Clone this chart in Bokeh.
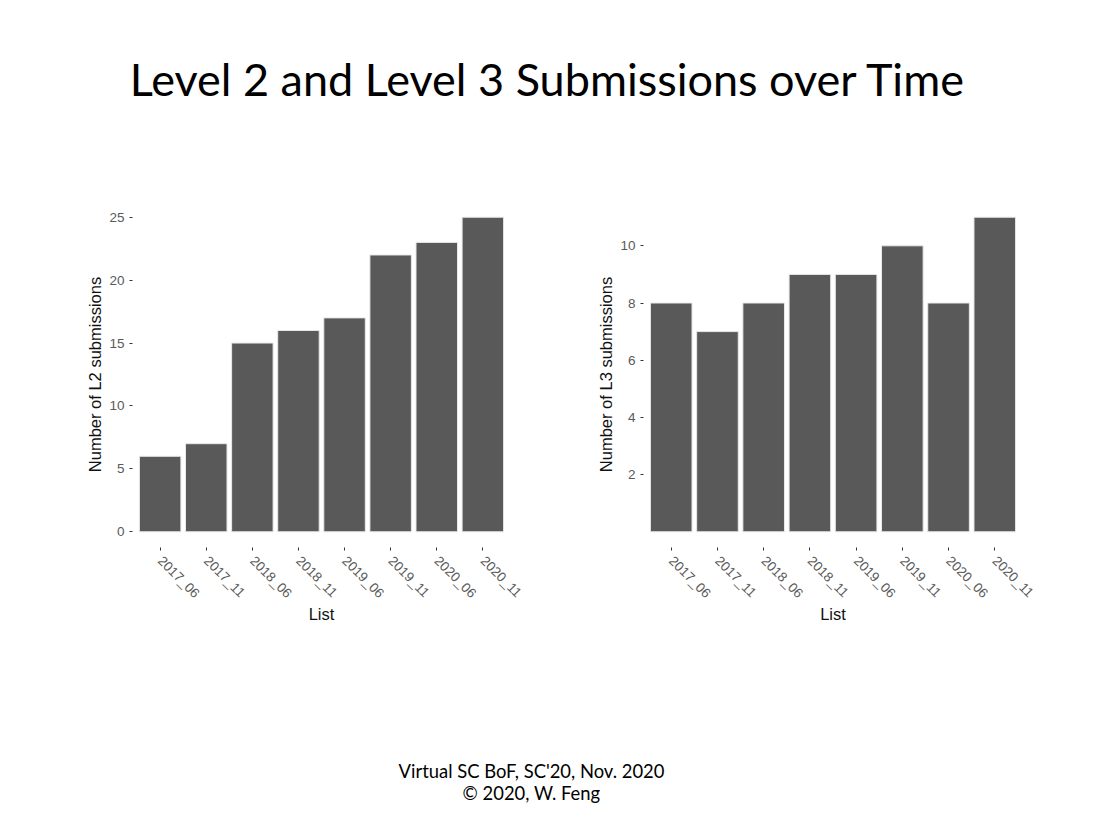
import math
from bokeh.plotting import figure
from bokeh.models import Range1d, FactorRange, FixedTicker, ColumnDataSource, Label
from bokeh.layouts import column, row
from bokeh.embed import file_html
from bokeh.resources import INLINE

# ---- data ----
lists = ["2017_06", "2017_11", "2018_06", "2018_11", "2019_06", "2019_11", "2020_06", "2020_11"]
l2_submissions = [6, 7, 15, 16, 17, 22, 23, 25]
l3_submissions = [8, 7, 8, 9, 9, 10, 8, 11]
l2_ticks = [0, 5, 10, 15, 20, 25]
l3_ticks = [2, 4, 6, 8, 10]
title_text = "Level 2 and Level 3 Submissions over Time"
footer_lines = ["Virtual SC BoF, SC'20, Nov. 2020", "\u00a9 2020, W. Feng"]

BAR = "#595959"
TICK_FONT = "Liberation Sans"


def blank(width, height):
    f = figure(width=width, height=height, output_backend="svg", toolbar_location=None,
               title=None,
               x_range=Range1d(0, width), y_range=Range1d(height, 0),
               min_border=0, x_axis_location=None, y_axis_location=None)
    f.grid.visible = False
    f.outline_line_color = None
    f.background_fill_color = "white"
    f.border_fill_color = "white"
    return f


def bar_chart(values, ticks, ymax_pad, ylabel, width, height, left, right, top, bottom):
    ymax = max(values)
    src = ColumnDataSource(dict(x=lists, top=values))
    p = figure(width=width, height=height, output_backend="svg",
               toolbar_location=None, title=None,
               x_range=FactorRange(*lists, range_padding=0.1, range_padding_units="absolute"),
               y_range=Range1d(-ymax_pad, ymax + ymax_pad),
               min_border_left=left, min_border_right=right,
               min_border_top=top, min_border_bottom=bottom)
    p.vbar(x="x", top="top", bottom=0, width=0.9, source=src,
           fill_color=BAR, line_color="#e8e8e8", line_width=1)
    p.grid.visible = False
    p.outline_line_color = None
    p.background_fill_color = "white"
    p.border_fill_color = "white"
    for ax in (p.xaxis[0], p.yaxis[0]):
        ax.axis_line_color = None
        ax.major_tick_line_color = "#333333"
        ax.major_tick_in = 0
        ax.major_tick_out = 3
        ax.minor_tick_line_color = None
        ax.major_label_text_font = TICK_FONT
        ax.major_label_text_font_size = "13.5px"
        ax.major_label_text_color = "#5a5a5a"
        ax.axis_label_text_font = TICK_FONT
        ax.axis_label_text_font_size = "16.5px"
        ax.axis_label_text_font_style = "normal"
        ax.axis_label_text_color = "#111111"
    p.yaxis.ticker = FixedTicker(ticks=ticks)
    p.yaxis.axis_label = ylabel
    p.yaxis.major_label_standoff = 5
    p.yaxis.axis_label_standoff = 2
    p.xaxis.axis_label = "List"
    p.xaxis.major_label_orientation = -math.pi / 4
    p.xaxis.major_label_standoff = 8
    p.xaxis.axis_label_standoff = -4
    return p


# row spans page y 150..650
p1 = bar_chart(l2_submissions, l2_ticks, 1.25, "Number of L2 submissions",
               560, 500, 132, 50, 50, 103)
p2 = bar_chart(l3_submissions, l3_ticks, 0.55, "Number of L3 submissions",
               533, 500, 83, 71, 51, 103)

top = blank(1093, 150)
top.add_layout(Label(x=547.5, y=78, text=title_text, text_align="center",
                     text_baseline="alphabetic", text_font="Lato",
                     text_font_size="45px", text_color="black"))

bottom = blank(1093, 170)
bottom.add_layout(Label(x=531, y=120, text=footer_lines[0], text_align="center",
                        text_baseline="alphabetic", text_font="Lato",
                        text_font_size="18.4px", text_color="black"))
bottom.add_layout(Label(x=531, y=142, text=footer_lines[1], text_align="center",
                        text_baseline="alphabetic", text_font="Lato",
                        text_font_size="18.4px", text_color="black"))

layout = column(top, row(p1, p2), bottom)
open("out.html", "w").write(file_html(layout, INLINE))
